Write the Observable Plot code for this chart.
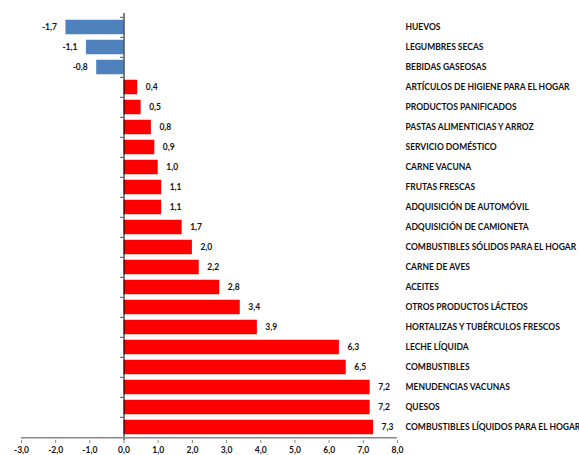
<!DOCTYPE html>
<html>
<head>
<meta charset="utf-8">
<script src="https://cdn.jsdelivr.net/npm/d3@7"></script>
<script src="https://cdn.jsdelivr.net/npm/@observablehq/plot@0.6"></script>
<style>
html,body{margin:0;padding:0;background:#fff;overflow:hidden;}
#chart svg{display:block;max-width:none;}
#chart svg text{font-weight:bold;}
</style>
</head>
<body>
<div id="chart"></div>
<script>
const categories = [
  "HUEVOS","LEGUMBRES SECAS","BEBIDAS GASEOSAS","ARTÍCULOS DE HIGIENE PARA EL HOGAR",
  "PRODUCTOS PANIFICADOS","PASTAS ALIMENTICIAS Y ARROZ","SERVICIO DOMÉSTICO","CARNE VACUNA",
  "FRUTAS FRESCAS","ADQUISICIÓN DE AUTOMÓVIL","ADQUISICIÓN DE CAMIONETA",
  "COMBUSTIBLES SÓLIDOS PARA EL HOGAR","CARNE DE AVES","ACEITES","OTROS PRODUCTOS LÁCTEOS",
  "HORTALIZAS Y TUBÉRCULOS FRESCOS","LECHE LÍQUIDA","COMBUSTIBLES","MENUDENCIAS VACUNAS",
  "QUESOS","COMBUSTIBLES LÍQUIDOS PARA EL HOGAR"
];
const values = [-1.7,-1.1,-0.8,0.4,0.5,0.8,0.9,1.0,1.1,1.1,1.7,2.0,2.2,2.8,3.4,3.9,6.3,6.5,7.2,7.2,7.3];
const xTicks = [-3,-2,-1,0,1,2,3,4,5,6,7,8];

const data = categories.map((c,i)=>({cat:c, v:values[i]}));
const fmt = v => v.toFixed(1).replace(".", ",");

const H = 455, mT = 13, mB = 15;
const step = (H - mT - mB) / categories.length;
const inset = step * 0.135;
const last = categories[categories.length-1];

const chart = Plot.plot({
  width: 579,
  height: H,
  marginLeft: 21,
  marginRight: 182,
  marginTop: mT,
  marginBottom: mB,
  style: {fontFamily: "Lato, 'Open Sans', sans-serif", fontWeight: "bold", fontSize: "8.5px"},
  x: {domain: [-3, 8]},
  y: {domain: categories, padding: 0},
  marks: [
    Plot.barX(data, {x: "v", y: "cat", insetTop: inset, insetBottom: inset, fill: d => d.v < 0 ? "#4F81BD" : "#FF0000"}),
    Plot.text(data.filter(d=>d.v>=0), {x: "v", y: "cat", text: d => fmt(d.v), textAnchor: "start", dx: 8, fontWeight: "bold", fontSize: 8.5, fill: "#111"}),
    Plot.text(data.filter(d=>d.v<0), {x: "v", y: "cat", text: d => fmt(d.v), textAnchor: "end", dx: -9, fontWeight: "bold", fontSize: 8.5, fill: "#111"}),
    Plot.ruleX([0], {stroke: "#000", strokeWidth: 1}),
    Plot.ruleY(categories, {y: d => d, x1: -0.1, x2: 0, dy: -step/2, stroke: "#444"}),
    Plot.ruleY([last], {y: d => d, x1: -3, x2: 8, dy: step/2, stroke: "#888", strokeWidth: 1.5}),
    Plot.axisY({anchor: "right", tickSize: 0, tickPadding: 8, fontSize: 8.5, fontWeight: "bold", fill: "#111", label: null}),
    Plot.axisX({ticks: xTicks, tickFormat: fmt, tickSize: 3, tickPadding: 3, stroke: "#888", fontSize: 8.5, fontWeight: "bold", fill: "#111", label: null})
  ]
});
document.getElementById("chart").appendChild(chart);
</script>
</body>
</html>
